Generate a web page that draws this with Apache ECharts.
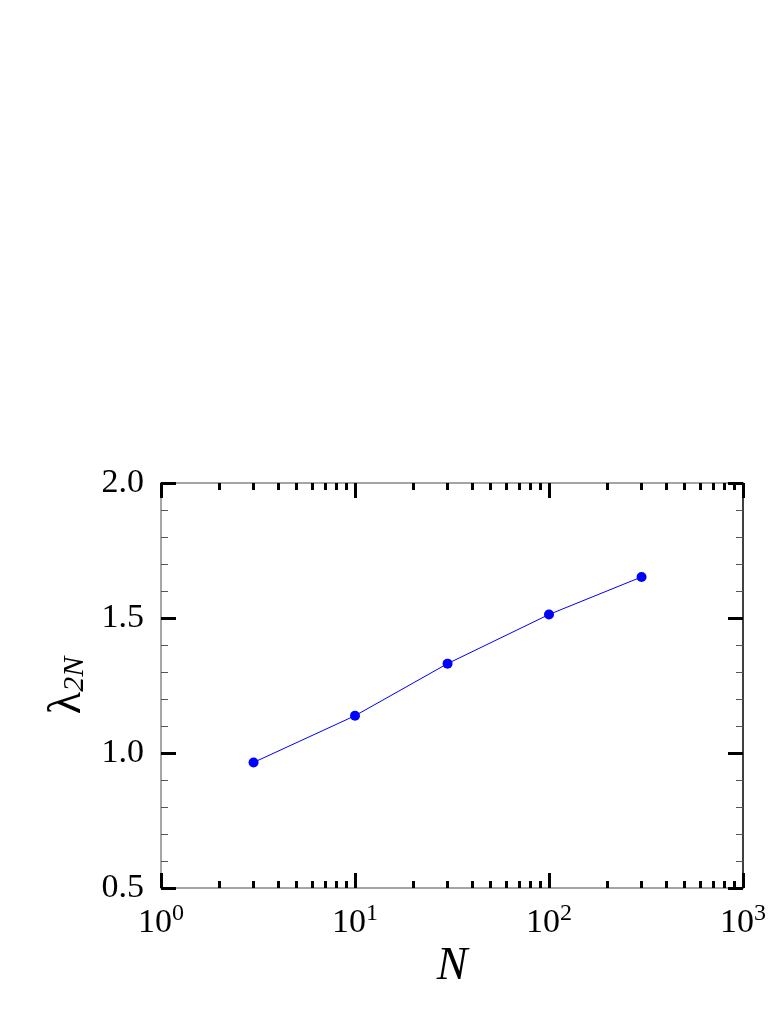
<!DOCTYPE html>
<html>
<head>
<meta charset="utf-8">
<script src="https://cdn.jsdelivr.net/npm/echarts@6/dist/echarts.min.js"></script>
<style>
  html, body { margin: 0; padding: 0; background: #fff; }
  #chart { width: 781px; height: 1011px; }
</style>
</head>
<body>
<div id="chart"></div>
<script>
// data
const sizes = [3, 10, 30, 100, 300];
const lambda2N = [0.965, 1.138, 1.331, 1.513, 1.652];
// minor log ticks (2..9 in each decade)
const minorLogTicks = [2, 3, 4, 5, 6, 7, 8, 9, 20, 30, 40, 50, 60, 70, 80, 90, 200, 300, 400, 500, 600, 700, 800, 900];

const serif = '"Liberation Serif", "Times New Roman", serif';

let myChart = echarts.init(document.getElementById("chart"));

function xAxisBase(pos) {
  return {
    type: "log",
    logBase: 10,
    min: 1,
    max: 1000,
    interval: 1,
    position: pos,
    splitLine: { show: false },
    axisLabel: { show: false },
    axisLine: { show: false },
    axisTick: { show: false },
  };
}

function majorTicks() {
  return { show: true, inside: true, length: 15, lineStyle: { color: "#000", width: 3 } };
}

function minorTicks() {
  return {
    show: true,
    inside: true,
    length: 7,
    customValues: minorLogTicks,
    lineStyle: { color: "#000", width: 3 },
  };
}

let xBottom = xAxisBase("bottom");
xBottom.axisLine = { show: true, lineStyle: { color: "#888", width: 1.5 } };
xBottom.axisTick = majorTicks();
xBottom.axisLabel = {
  show: true,
  margin: 14,
  formatter: function (v) {
    return "{b|10}{s|" + Math.round(Math.log10(v)) + "}";
  },
  rich: {
    b: { fontFamily: serif, fontSize: 34, color: "#000" },
    s: { fontFamily: serif, fontSize: 24, color: "#000", padding: [0, 0, 18, 0] },
  },
};
xBottom.name = "N";
xBottom.nameLocation = "middle";
xBottom.nameGap = 56;
xBottom.nameTextStyle = { fontFamily: serif, fontSize: 46, fontStyle: "italic", color: "#000" };

let xBottomMinor = xAxisBase("bottom");
xBottomMinor.axisTick = minorTicks();

let xTop = xAxisBase("top");
xTop.axisLine = { show: true, lineStyle: { color: "#888", width: 1.5 } };
xTop.axisTick = majorTicks();

let xTopMinor = xAxisBase("top");
xTopMinor.axisTick = minorTicks();

function yAxisBase(pos, lineColor) {
  return {
    type: "value",
    position: pos,
    min: 0.5,
    max: 2.0,
    interval: 0.5,
    splitLine: { show: false },
    axisLine: { show: true, lineStyle: { color: lineColor, width: 1.5 } },
    axisTick: majorTicks(),
    minorTick: { show: true, splitNumber: 5, length: 7, lineStyle: { color: "#555", width: 1 } },
    axisLabel: { show: false },
  };
}

let yLeft = yAxisBase("left", "#888");
yLeft.axisLabel = {
  show: true,
  margin: 17,
  fontFamily: serif,
  fontSize: 34,
  color: "#000",
  formatter: function (v) { return v.toFixed(1); },
};
yLeft.name = "{l|λ}{s|2N}";
yLeft.nameLocation = "middle";
yLeft.nameRotate = 90;
yLeft.nameGap = 68;
yLeft.nameTextStyle = {
  rich: {
    l: { fontFamily: serif, fontSize: 46, color: "#000" },
    s: { fontFamily: serif, fontSize: 30, fontStyle: "italic", color: "#000", padding: [16, 0, 0, 0] },
  },
};

let yRight = yAxisBase("right", "#000");

let option = {
  animation: false,
  backgroundColor: "#fff",
  grid: { left: 161, top: 483, right: 38, bottom: 123 },
  xAxis: [xBottom, xBottomMinor, xTop, xTopMinor],
  yAxis: [yLeft, yRight],
  series: [
    {
      type: "line",
      xAxisIndex: 0,
      yAxisIndex: 0,
      data: sizes.map((n, i) => [n, lambda2N[i]]),
      symbol: "circle",
      symbolSize: 10,
      itemStyle: { color: "#0000ff" },
      lineStyle: { color: "#0000ff", width: 1 },
    },
  ],
};
myChart.setOption(option);
</script>
</body>
</html>
